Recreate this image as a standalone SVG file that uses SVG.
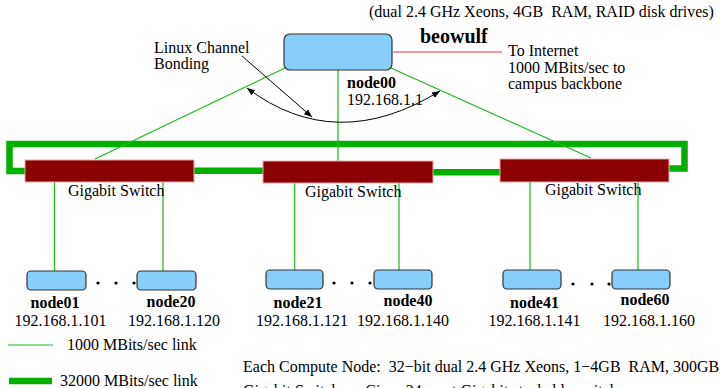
<svg xmlns="http://www.w3.org/2000/svg" width="721" height="388" viewBox="0 0 721 388">
<style>
text{font-family:"Liberation Serif","Times New Roman",serif;font-size:16px;fill:#000;white-space:pre}
.b{font-weight:bold}
.m{text-anchor:middle}
.thin{stroke:#1cb81c;stroke-width:1.2;fill:none}
.thick{stroke:#00b000;stroke-width:6.5;fill:none}
.node{fill:#87cefa;stroke:#333;stroke-width:1.2}
.sw{fill:#8b0000;stroke:#e8a8a8;stroke-width:1}
.blk{stroke:#000;stroke-width:1;fill:none}
</style>
<defs>
<marker id="ah" viewBox="0 0 10 10" refX="10" refY="5" markerWidth="8" markerHeight="8" markerUnits="userSpaceOnUse" orient="auto-start-reverse">
<path d="M0,1 L10,5 L0,9 z" fill="#000"/>
</marker>
</defs>
<g id="connectors">
<path class="thick" d="M25,171 H9.5 V144 H684.5 V168.5 H669"/>
<line class="thick" x1="194" y1="170.7" x2="263" y2="170.7"/>
<line class="thick" x1="433" y1="172.3" x2="500" y2="172.3"/>
<line class="thin" x1="285" y1="68" x2="95" y2="159"/>
<line class="thin" x1="391" y1="68" x2="591" y2="158"/>
<line class="thin" x1="338" y1="70" x2="338" y2="161"/>
<line x1="393" y1="52" x2="502" y2="52" stroke="#f07878" stroke-width="1.5"/>
<line class="thin" x1="54.5" y1="182" x2="54.5" y2="271"/>
<line class="thin" x1="163" y1="182" x2="163" y2="271"/>
<line class="thin" x1="294.7" y1="183" x2="294.7" y2="270"/>
<line class="thin" x1="399" y1="183" x2="399" y2="270"/>
<line class="thin" x1="530" y1="182" x2="530" y2="270"/>
<line class="thin" x1="638" y1="182" x2="638" y2="270"/>
<path class="blk" d="M247,88 Q336,155 440,91" marker-start="url(#ah)" marker-end="url(#ah)"/>
<line class="blk" x1="242" y1="56" x2="312" y2="117" marker-end="url(#ah)"/>
</g>
<g id="node00">
<rect class="node" x="284" y="34" width="108" height="36" rx="6"/>
<text class="b" x="347" y="88">node00</text>
<text x="347" y="105">192.168.1.1</text>
</g>
<g id="beowulf-label">
<text x="369" y="17">(dual 2.4 GHz Xeons, 4GB  RAM, RAID disk drives)</text>
<text class="b" x="420" y="43" style="font-size:20px">beowulf</text>
</g>
<g id="internet">
<text x="508" y="56">To Internet</text>
<text x="508" y="73">1000 MBits/sec to</text>
<text x="508" y="89">campus backbone</text>
</g>
<g id="bonding">
<text x="154" y="53">Linux Channel</text>
<text x="154" y="69">Bonding</text>
</g>
<g id="switch1">
<rect class="sw" x="25" y="160" width="169" height="22"/>
<text x="68" y="196">Gigabit Switch</text>
</g>
<g id="switch2">
<rect class="sw" x="263" y="161" width="170" height="22"/>
<text x="305" y="197">Gigabit Switch</text>
</g>
<g id="switch3">
<rect class="sw" x="500" y="159" width="169" height="23"/>
<text x="545" y="195">Gigabit Switch</text>
</g>
<g id="node01">
<rect class="node" x="27" y="271" width="59" height="19" rx="4"/>
<text class="b m" x="55" y="308">node01</text>
<text class="m" x="60.5" y="326">192.168.1.101</text>
</g>
<g id="node20">
<rect class="node" x="137" y="271" width="59" height="19" rx="4"/>
<text class="b m" x="171" y="307">node20</text>
<text class="m" x="174" y="326">192.168.1.120</text>
</g>
<g id="node21">
<rect class="node" x="266" y="270" width="57" height="19" rx="4"/>
<text class="b m" x="298" y="308">node21</text>
<text class="m" x="302" y="326">192.168.1.121</text>
</g>
<g id="node40">
<rect class="node" x="374" y="270" width="58" height="19" rx="4"/>
<text class="b m" x="408" y="306">node40</text>
<text class="m" x="403" y="326">192.168.1.140</text>
</g>
<g id="node41">
<rect class="node" x="503" y="270" width="58" height="19" rx="4"/>
<text class="b m" x="534.5" y="308">node41</text>
<text class="m" x="534.5" y="326">192.168.1.141</text>
</g>
<g id="node60">
<rect class="node" x="612" y="270" width="58" height="19" rx="4"/>
<text class="b m" x="645" y="305">node60</text>
<text class="m" x="649" y="326">192.168.1.160</text>
</g>
<g id="dots" fill="#000">
<circle cx="98" cy="283" r="1.6"/><circle cx="116" cy="283" r="1.6"/><circle cx="134" cy="283" r="1.6"/>
<circle cx="334" cy="283" r="1.6"/><circle cx="352" cy="283" r="1.6"/><circle cx="370" cy="283" r="1.6"/>
<circle cx="573" cy="284" r="1.6"/><circle cx="592" cy="284" r="1.6"/><circle cx="609" cy="284" r="1.6"/>
</g>
<g id="legend">
<line class="thin" x1="8" y1="345" x2="53" y2="345"/>
<text x="67" y="350">1000 MBits/sec link</text>
<line class="thick" x1="9" y1="381" x2="52" y2="381"/>
<text x="60" y="386">32000 MBits/sec link</text>
</g>
<g id="notes">
<text x="243" y="372">Each Compute Node:  32−bit dual 2.4 GHz Xeons, 1−4GB  RAM, 300GB</text>
<text x="243" y="396">Gigabit Switches:  Cisco 24−port Gigabit stackable switches</text>
</g>
</svg>
